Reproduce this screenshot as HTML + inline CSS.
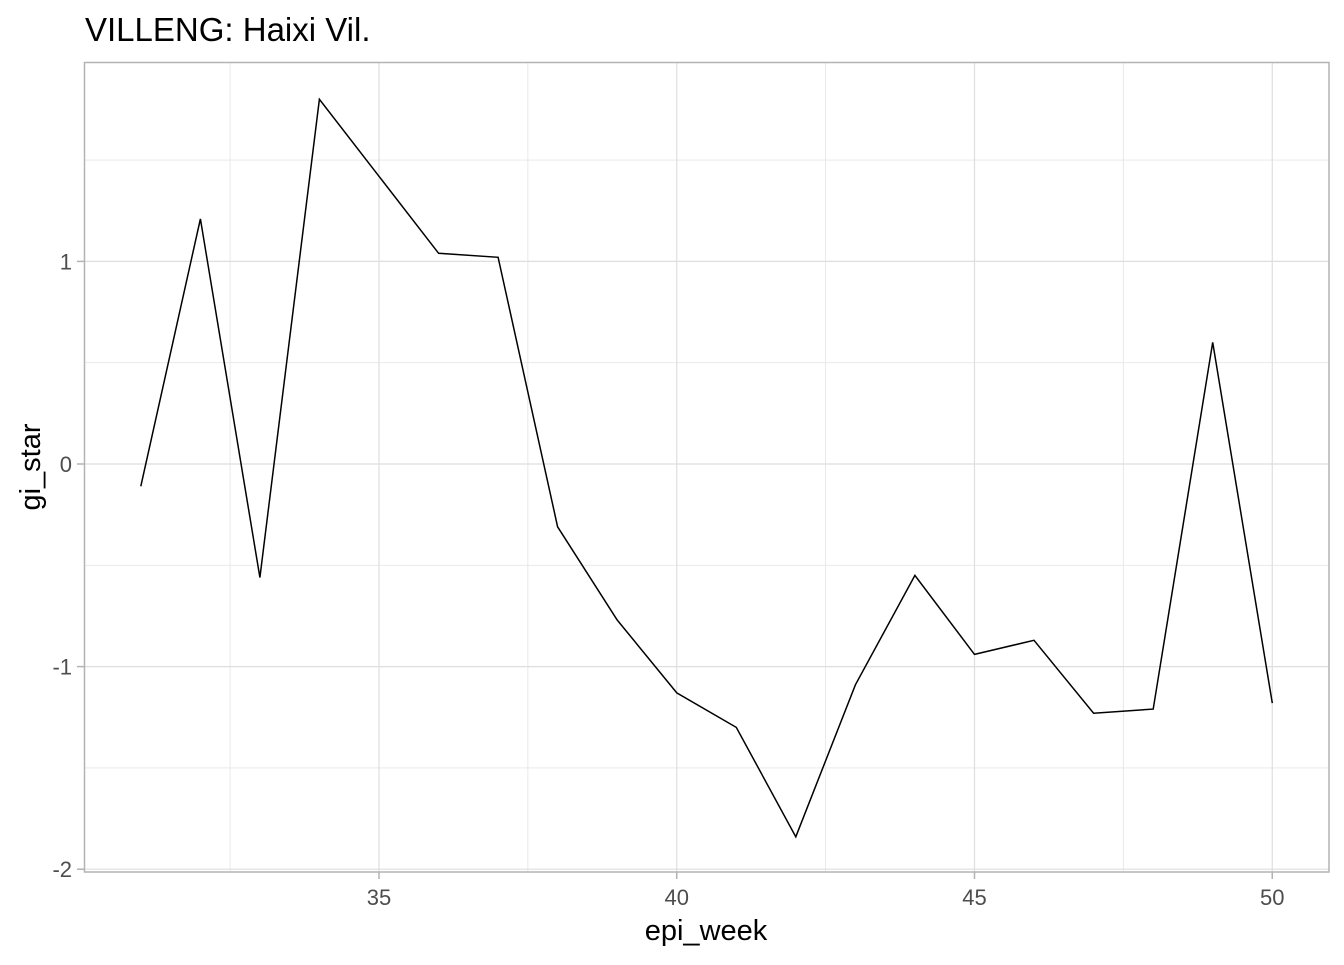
<!DOCTYPE html>
<html><head><meta charset="utf-8"><style>
body{margin:0;background:#fff;}
svg text{font-family:"Liberation Sans",Arial,sans-serif;}
</style></head><body>
<svg id="chart" width="1344" height="960" xmlns="http://www.w3.org/2000/svg">
<text x="85" y="41" font-size="33" fill="#000">VILLENG: Haixi Vil.</text>
<g id="grid"></g>
<path id="line" fill="none" stroke="#000" stroke-width="1.5"/>
<rect x="84.5" y="62.5" width="1244.5" height="809.5" fill="none" stroke="#b3b3b3" stroke-width="1.5"/>
<g id="axes"></g>
<text x="706" y="940" font-size="29" text-anchor="middle" fill="#000">epi_week</text>
<text transform="translate(40,467) rotate(-90)" font-size="29" text-anchor="middle" fill="#000">gi_star</text>
</svg>
<script>
const weeks=[31,32,33,34,35,36,37,38,39,40,41,42,43,44,45,46,47,48,49,50];
const giStar=[-0.11,1.21,-0.56,1.80,1.42,1.04,1.02,-0.31,-0.77,-1.13,-1.30,-1.84,-1.09,-0.55,-0.94,-0.87,-1.23,-1.21,0.60,-1.18];
const xTicks=[35,40,45,50];
const yTicks=[-2,-1,0,1];
const xMinor=[32.5,37.5,42.5,47.5];
const yMinor=[-1.5,-0.5,0.5,1.5];
const X=v=>379+(v-35)*59.55;
const Y=v=>464-v*202.6;
const NS="http://www.w3.org/2000/svg";
const grid=document.getElementById('grid'),axes=document.getElementById('axes');
function ln(p,x1,y1,x2,y2,c,w){const l=document.createElementNS(NS,'line');l.setAttribute('x1',x1);l.setAttribute('y1',y1);l.setAttribute('x2',x2);l.setAttribute('y2',y2);l.setAttribute('stroke',c);l.setAttribute('stroke-width',w);p.appendChild(l);return l;}
function tx(p,x,y,s,a){const t=document.createElementNS(NS,'text');t.setAttribute('x',x);t.setAttribute('y',y);t.setAttribute('font-size','22');t.setAttribute('fill','#4d4d4d');t.setAttribute('text-anchor',a);t.textContent=s;p.appendChild(t);return t;}
xMinor.forEach(v=>{const l=ln(grid,X(v),62,X(v),872,'#e6e6e6',0.9);

});
yMinor.forEach(v=>{const l=ln(grid,84,Y(v),1329,Y(v),'#e6e6e6',0.9);

});
xTicks.forEach(v=>{const l=ln(grid,X(v),62,X(v),872,'#dedede',1.2);


const k=ln(axes,X(v),872,X(v),879,'#b3b3b3',1.5);


const t=tx(axes,X(v),905,String(v),'middle');

});
yTicks.forEach(v=>{const l=ln(grid,84,Y(v),1329,Y(v),'#dedede',1.2);


const k=ln(axes,77,Y(v),84,Y(v),'#b3b3b3',1.5);


const t=tx(axes,72,Y(v)+8,String(v),'end');

});
document.getElementById('line').setAttribute('d',weeks.map((w,i)=>(i?'L':'M')+X(w).toFixed(1)+' '+Y(giStar[i]).toFixed(1)).join(' '));
</script>
</body></html>
